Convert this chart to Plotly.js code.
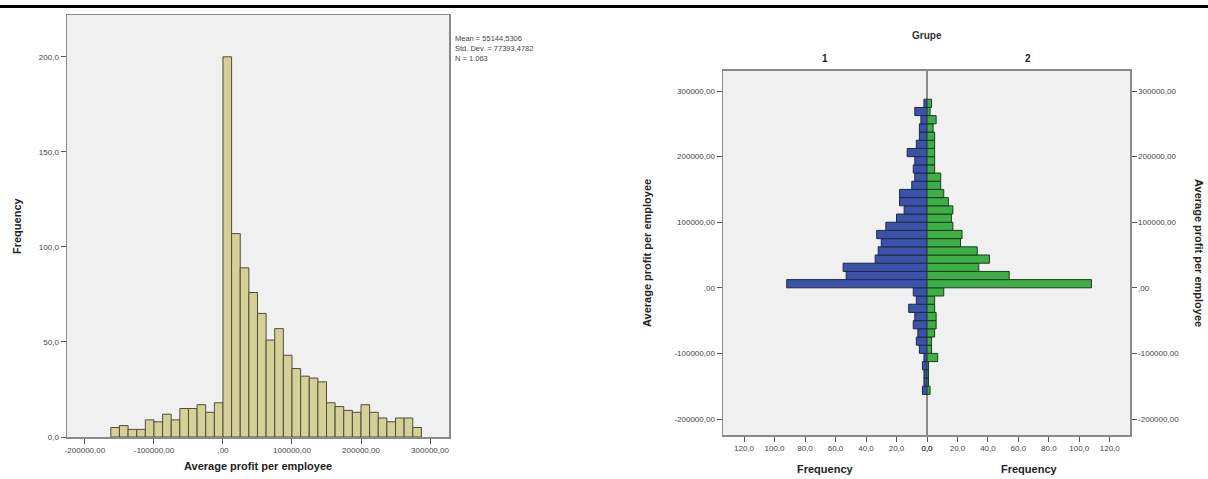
<!DOCTYPE html>
<html><head><meta charset="utf-8">
<script src="https://cdn.plot.ly/plotly-3.0.1.min.js"></script>
<style>html,body{margin:0;padding:0;background:#fff;} #chart{width:1208px;height:479px;}</style>
</head><body><div id="chart"></div>
<script>
// lower edge of each profit bin (bin width 12500)
const binStart = [-162500,-150000,-137500,-125000,-112500,-100000,-87500,-75000,-62500,-50000,-37500,-25000,-12500,
  0,12500,25000,37500,50000,62500,75000,87500,100000,112500,125000,137500,150000,162500,175000,187500,200000,212500,225000,237500,250000,262500,275000];
const histCounts = [5,6,4,4,9,8,12,9,15,15,17,13,18,
  200,107,89,76,65,51,57,43,36,32,31,29,18,16,14,13,17,13,10,8,10,10,5];
const group1Counts = [3,2,2,3,2,5,7,6,9,8,12,7,9,
  92,53,55,34,32,30,33,27,20,15,18,18,10,8,9,8,13,7,5,5,4,8,2];
const group2Counts = [2,1,1,1,7,3,3,5,6,6,5,5,11,
  108,54,34,41,33,22,23,17,16,17,14,11,9,9,5,5,5,5,5,4,6,2,3];
const binWidth = 12500;

const histXTicks = [-200000,-100000,0,100000,200000,300000];
const histXText = ["-200000,00","-100000,00",",00","100000,00","200000,00","300000,00"];
const histYTicks = [0,50,100,150,200];
const histYText = ["0,0","50,0","100,0","150,0","200,0"];
const pyrYTicks = [300000,200000,100000,0,-100000,-200000];
const pyrYText = ["300000,00","200000,00","100000,00",",00","-100000,00","-200000,00"];
const freqTicks = [0,20,40,60,80,100,120];
const freqText = ["0,0","20,0","40,0","60,0","80,0","100,0","120,0"];
const groupLabels = ["1","2"];
const stats = ["Mean = 55144,5306","Std. Dev. = 77393,4782","N = 1.063"];

const W = 1208, H = 479;
const px = x => x / W, py = y => 1 - y / H;
const FONT = "Liberation Sans, Arial, sans-serif";
const tickFont = {family: FONT, size: 8, color: "#444"};

const traces = [
  {type: "bar", x: binStart, y: histCounts, width: binWidth, offset: 0, xaxis: "x", yaxis: "y",
   marker: {color: "#d5cf98", line: {color: "#4f4d38", width: 1}}, hoverinfo: "x+y"},
  {type: "bar", orientation: "h", y: binStart, x: group1Counts, width: binWidth, offset: 0, xaxis: "x2", yaxis: "y2",
   marker: {color: "#3c52a8", line: {color: "#1e2a44", width: 1}}},
  {type: "bar", orientation: "h", y: binStart, x: group2Counts, width: binWidth, offset: 0, xaxis: "x3", yaxis: "y3",
   marker: {color: "#3daf45", line: {color: "#1d3a22", width: 1}}}
];

const axBase = {showgrid: false, zeroline: false, showline: true, linecolor: "#8a8a8a", linewidth: 1.5,
  ticks: "outside", ticklen: 5, tickcolor: "#555", tickfont: tickFont, fixedrange: true};

function label(x, y, text, size, angle, color) {
  return {xref: "paper", yref: "paper", x: px(x), y: py(y), xanchor: "center", yanchor: "middle",
    showarrow: false, textangle: angle || 0, text: text,
    font: {family: FONT, size: size, color: color || "#222"}};
}

const layout = {
  width: W, height: H, margin: {l: 0, r: 0, t: 0, b: 0},
  paper_bgcolor: "#ffffff", plot_bgcolor: "#f0f0f0", showlegend: false, bargap: 0,
  xaxis: Object.assign({}, axBase, {domain: [px(67), px(449)], range: [-226000, 327500], mirror: true,
    tickvals: histXTicks, ticktext: histXText, anchor: "y"}),
  yaxis: Object.assign({}, axBase, {domain: [py(437), py(15)], range: [0, 222], mirror: true,
    tickvals: histYTicks, ticktext: histYText, anchor: "x"}),
  xaxis2: Object.assign({}, axBase, {domain: [px(723), px(927)], range: [133.8, 0], mirror: true,
    tickvals: freqTicks, ticktext: freqText, anchor: "y2"}),
  yaxis2: Object.assign({}, axBase, {domain: [py(435), py(70.7)], range: [-224400, 331000],
    tickvals: pyrYTicks, ticktext: pyrYText, anchor: "x2"}),
  xaxis3: Object.assign({}, axBase, {domain: [px(927), px(1130)], range: [0, 133.3], mirror: true,
    tickvals: freqTicks, ticktext: freqText, anchor: "y3"}),
  yaxis3: Object.assign({}, axBase, {domain: [py(435), py(70.7)], range: [-224400, 331000], side: "right",
    tickvals: pyrYTicks, ticktext: pyrYText, anchor: "x3"}),
  shapes: [
    {type: "line", xref: "paper", yref: "paper", x0: 0, x1: 1, y0: py(6.5), y1: py(6.5), line: {color: "#000", width: 3}},
    {type: "line", xref: "paper", yref: "paper", x0: px(927), x1: px(927), y0: py(435), y1: py(70.7),
     line: {color: "#8a8a8a", width: 2}, layer: "below"}
  ],
  annotations: [
    {xref: "paper", yref: "paper", x: px(453), y: py(32), xanchor: "left", yanchor: "top", align: "left",
     showarrow: false, text: stats.join("<br>"), font: {family: FONT, size: 7.5, color: "#444"}},
    label(258, 466, "<b>Average profit per employee</b>", 11),
    label(17, 226, "<b>Frequency</b>", 11, -90),
    label(927, 36, "<b>Grupe</b>", 10, 0, "#333"),
    label(825, 58, "<b>" + groupLabels[0] + "</b>", 10),
    label(1028, 58, "<b>" + groupLabels[1] + "</b>", 10),
    label(825, 469, "<b>Frequency</b>", 11),
    label(1029, 469, "<b>Frequency</b>", 11),
    label(647, 253, "<b>Average profit per employee</b>", 11, -90),
    label(1199, 253, "<b>Average profit per employee</b>", 11, 90)
  ]
};

Plotly.newPlot("chart", traces, layout, {displayModeBar: false, staticPlot: true});
</script>
</body></html>
